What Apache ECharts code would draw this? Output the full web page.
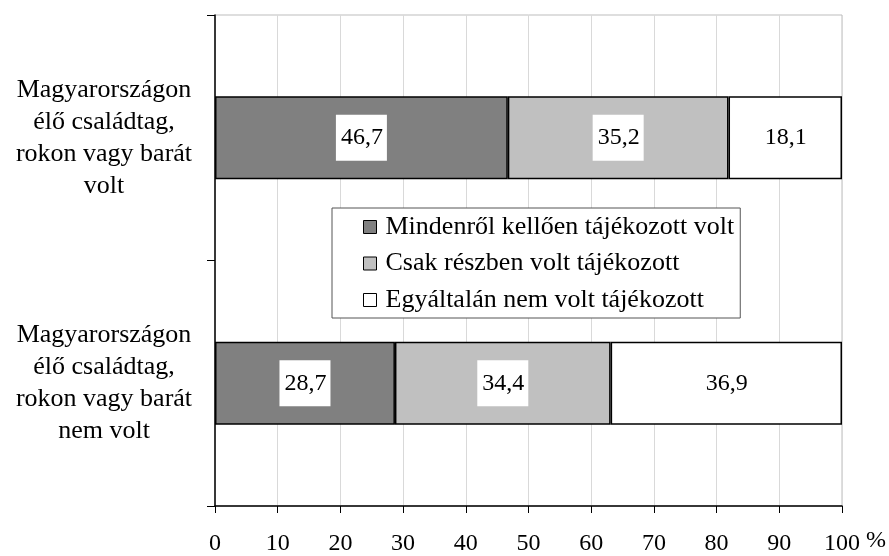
<!DOCTYPE html>
<html>
<head>
<meta charset="utf-8">
<script src="https://cdn.jsdelivr.net/npm/echarts@6/dist/echarts.min.js"></script>
<style>
  html, body { margin: 0; padding: 0; background: #fff; }
  #chart { width: 889px; height: 556px; }
</style>
</head>
<body>
<div id="chart"></div>
<script>
const categories = [
  'Magyarországon\nélő családtag,\nrokon vagy barát\nvolt',
  'Magyarországon\nélő családtag,\nrokon vagy barát\nnem volt'
]
const seriesNames = [
  'Mindenről kellően tájékozott volt',
  'Csak részben volt tájékozott',
  'Egyáltalán nem volt tájékozott'
]
const fullyInformed = [46.7, 28.7]
const partlyInformed = [35.2, 34.4]
const notInformed = [18.1, 36.9]
const colors = ['#808080', '#c0c0c0', '#ffffff']

const font = '"Liberation Serif", "Times New Roman", serif'

const chart = echarts.init(document.getElementById('chart'), null, { renderer: 'canvas' })

const makeSeries = (name, data, color) => ({
  name,
  type: 'bar',
  stack: 'total',
  data,
  barWidth: 83,
  itemStyle: { color, borderColor: '#000', borderWidth: 1.5 },
  label: {
    show: true,
    position: 'inside',
    formatter: p => String(p.value).replace('.', ','),
    color: '#000',
    fontFamily: font,
    fontSize: 24,
    lineHeight: 24,
    backgroundColor: '#fff',
    padding: [11, 4, 11, 5]
  }
})

chart.setOption({
  animation: false,
  backgroundColor: '#fff',
  textStyle: { fontFamily: font },
  grid: {
    left: 215, right: 47, top: 15, bottom: 48,
    show: true, borderColor: '#bdbdbd', borderWidth: 1
  },
  legend: {
    orient: 'vertical',
    left: 332, top: 208,
    data: seriesNames,
    icon: 'rect',
    itemWidth: 13, itemHeight: 13,
    itemGap: 10.5,
    padding: [6, 6, 5, 31],
    borderColor: '#555', borderWidth: 1,
    backgroundColor: '#fff',
    itemStyle: { borderColor: '#000', borderWidth: 1 },
    textStyle: { fontFamily: font, fontSize: 26, lineHeight: 26, color: '#000', padding: [0, 0, 0, 4] }
  },
  xAxis: {
    type: 'value',
    min: 0, max: 100, interval: 10,
    name: '%',
    nameLocation: 'end',
    nameGap: 23,
    nameTextStyle: { fontFamily: font, fontSize: 24, color: '#000', verticalAlign: 'top', padding: [23, 0, 0, 0] },
    axisLine: { show: true, lineStyle: { color: '#000', width: 1.5 } },
    axisTick: { show: true, length: 7, lineStyle: { color: '#000' } },
    axisLabel: { margin: 26, fontFamily: font, fontSize: 24, color: '#000' },
    splitLine: { show: true, lineStyle: { color: '#d9d9d9', width: 1 } }
  },
  yAxis: {
    type: 'category',
    inverse: true,
    data: categories,
    axisLine: { show: true, lineStyle: { color: '#000', width: 1.5 } },
    axisTick: { show: true, length: 8, alignWithLabel: false, lineStyle: { color: '#000' } },
    axisLabel: { margin: 111, fontFamily: font, fontSize: 26, lineHeight: 32, color: '#000', align: 'center' },
    splitLine: { show: false }
  },
  series: [
    makeSeries(seriesNames[0], fullyInformed, colors[0]),
    makeSeries(seriesNames[1], partlyInformed, colors[1]),
    makeSeries(seriesNames[2], notInformed, colors[2])
  ]
})
</script>
</body>
</html>
